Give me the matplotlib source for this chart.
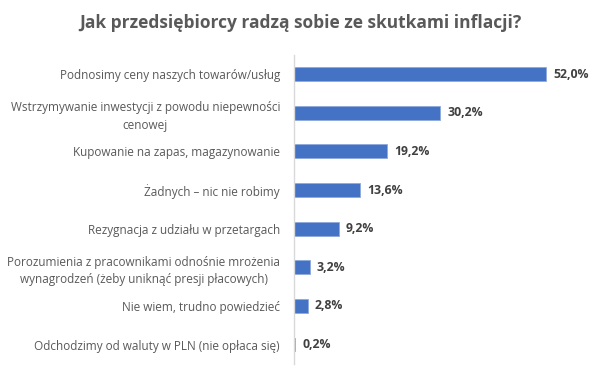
import matplotlib.pyplot as plt

categories = [
    "Podnosimy ceny naszych towarów/usług",
    "Wstrzymywanie inwestycji z powodu niepewności\ncenowej",
    "Kupowanie na zapas, magazynowanie",
    "Żadnych – nic nie robimy",
    "Rezygnacja z udziału w przetargach",
    "Porozumienia z pracownikami odnośnie mrożenia\nwynagrodzeń (żeby uniknąć presji płacowych)",
    "Nie wiem, trudno powiedzieć",
    "Odchodzimy od waluty w PLN (nie opłaca się)",
]
values = [52.0, 30.2, 19.2, 13.6, 9.2, 3.2, 2.8, 0.2]
value_labels = ["52,0%", "30,2%", "19,2%", "13,6%", "9,2%", "3,2%", "2,8%", "0,2%"]
title = "Jak przedsiębiorcy radzą sobie ze skutkami inflacji?"

plt.rcParams["font.family"] = ["Open Sans", "DejaVu Sans"]

fig = plt.figure(figsize=(6, 3.81), dpi=100)
ax = fig.add_axes([0.49, 0.045, 0.485, 0.811])

y = list(range(len(categories)))
ax.barh(y, values, height=0.36, color="#4472C4", edgecolor="#8FAADC", linewidth=0.6)
ax.set_ylim(len(categories) - 0.5, -0.5)
ax.set_xlim(0, 60)

for yi, v, lab in zip(y, values, value_labels):
    ax.text(v + 1.5, yi, lab, va="center", ha="left", fontsize=8.8,
            fontweight="bold", color="#404040")

ax.set_yticks(y)
ax.set_yticklabels(categories, fontsize=8.5, color="#595959", linespacing=1.45)
for t in ax.get_yticklabels():
    t.set_multialignment("center")
ax.tick_params(axis="y", length=0, pad=10)
ax.set_xticks([])
for s in ["top", "right", "bottom"]:
    ax.spines[s].set_visible(False)
ax.spines["left"].set_color("#D9D9D9")
ax.spines["left"].set_linewidth(1)

fig.text(0.5, 0.94, title, ha="center", va="center", fontsize=12.5,
         fontweight="bold", color="#595959")

fig.savefig("out.png", dpi=100)
